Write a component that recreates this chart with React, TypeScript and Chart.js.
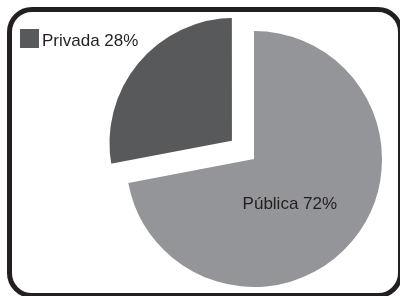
import React, { useEffect, useRef } from "react";
import { Chart, registerables } from "chart.js";

Chart.register(...registerables);

// ---- data ----
const categories = ["Pública", "Privada"];
const shares = [72, 28];
const sliceColors = ["#939598", "#58595b"];
const explode = [0, 99];
const sliceInset = [0, 6];
const insideLabelShown = [true, false];
const legendShown = [false, true];

const TEXT_COLOR = "#231f20";
const FONT = '17px "Liberation Sans", Arial, sans-serif';

const labelsPlugin = {
  id: "sliceLabels",
  afterDatasetsDraw(chart: any) {
    const ctx = chart.ctx;
    const meta = chart.getDatasetMeta(0);
    ctx.save();
    ctx.font = FONT;
    // labels inside slices
    meta.data.forEach((arc: any, i: number) => {
      if (!insideLabelShown[i]) return;
      const { x, y, outerRadius } = arc.getProps(["x", "y", "outerRadius"], true);
      ctx.fillStyle = TEXT_COLOR;
      ctx.textAlign = "center";
      ctx.textBaseline = "alphabetic";
      ctx.fillText(`${categories[i]} ${shares[i]}%`, x + outerRadius * 0.28, y + outerRadius * 0.387);
    });
    // legend
    let ly = 29;
    categories.forEach((c, i) => {
      if (!legendShown[i]) return;
      ctx.fillStyle = sliceColors[i];
      ctx.fillRect(20, ly, 19, 19);
      ctx.fillStyle = TEXT_COLOR;
      ctx.textAlign = "left";
      ctx.textBaseline = "alphabetic";
      ctx.fillText(`${c} ${shares[i]}%`, 42, ly + 17);
      ly += 24;
    });
    ctx.restore();
  },
};

export default function App() {
  const canvasRef = useRef<HTMLCanvasElement | null>(null);

  useEffect(() => {
    if (!canvasRef.current) return;
    const chart = new Chart(canvasRef.current, {
      type: "pie",
      data: {
        labels: categories,
        datasets: [
          {
            data: shares,
            backgroundColor: sliceColors,
            borderColor: "#ffffff",
            borderWidth: sliceInset,
            borderAlign: "center",
            borderJoinStyle: "round",
            offset: explode,
            hoverOffset: 0,
            radius: 128,
          } as any,
        ],
      },
      options: {
        animation: false,
        responsive: false,
        events: [],
        layout: { padding: { left: 108, right: 0, top: 22, bottom: 0 } },
        plugins: {
          legend: { display: false },
          tooltip: { enabled: false },
        },
      },
      plugins: [labelsPlugin],
    });
    return () => chart.destroy();
  }, []);

  return (
    <div
      style={{
        position: "fixed",
        left: 0,
        top: 0,
        width: 400,
        height: 296,
        overflow: "hidden",
        background: "#ffffff",
      }}
    >
      <canvas
        ref={canvasRef}
        width={400}
        height={296}
        style={{ position: "absolute", left: 0, top: 0, width: 400, height: 296 }}
      />
      <div
        style={{
          position: "absolute",
          left: 7,
          top: 7,
          width: 396,
          height: 291,
          boxSizing: "border-box",
          border: "5px solid #231f20",
          borderRadius: 25,
          pointerEvents: "none",
        }}
      />
    </div>
  );
}
